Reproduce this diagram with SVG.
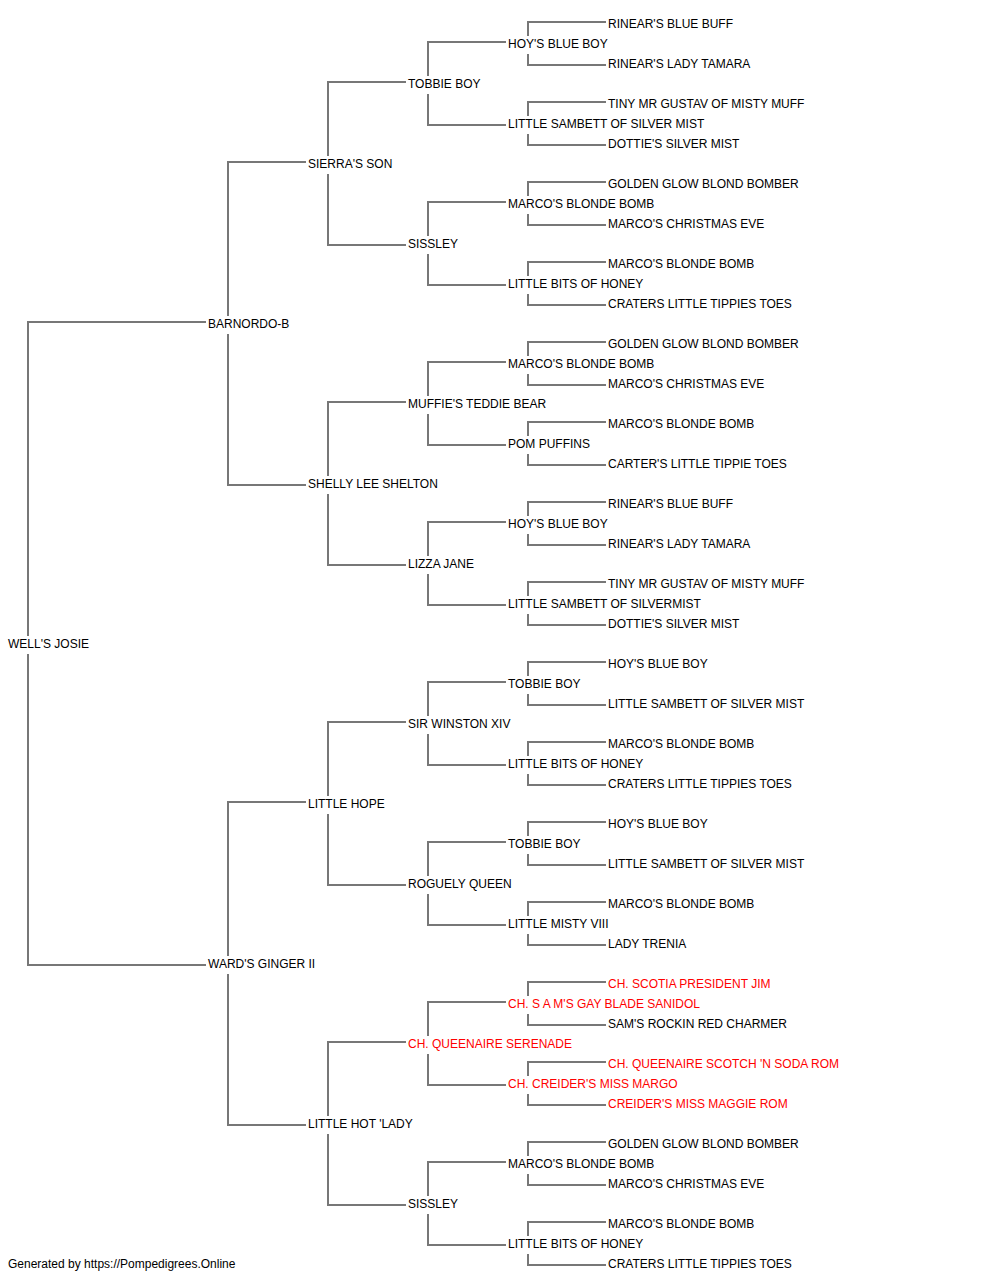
<svg xmlns="http://www.w3.org/2000/svg" width="1000" height="1280" viewBox="0 0 1000 1280">
<style>
text{font-family:"Liberation Sans",Arial,sans-serif;font-size:12px;fill:#000}
text.ch{fill:#ff0000}
.c path{fill:none;stroke:#777;stroke-width:2}
</style>
<rect width="1000" height="1280" fill="#fff"/>
<g class="c" id="connectors">
<path d="M206,322H28V636M28,654V965H206"/>
<path d="M306,162H228V316M228,334V485H306"/>
<path d="M306,802H228V956M228,974V1125H306"/>
<path d="M406,82H328V156M328,174V245H406"/>
<path d="M406,402H328V476M328,494V565H406"/>
<path d="M406,722H328V796M328,814V885H406"/>
<path d="M406,1042H328V1116M328,1134V1205H406"/>
<path d="M506,42H428V76M428,94V125H506"/>
<path d="M506,202H428V236M428,254V285H506"/>
<path d="M506,362H428V396M428,414V445H506"/>
<path d="M506,522H428V556M428,574V605H506"/>
<path d="M506,682H428V716M428,734V765H506"/>
<path d="M506,842H428V876M428,894V925H506"/>
<path d="M506,1002H428V1036M428,1054V1085H506"/>
<path d="M506,1162H428V1196M428,1214V1245H506"/>
<path d="M606,22H528V36M528,54V65H606"/>
<path d="M606,102H528V116M528,134V145H606"/>
<path d="M606,182H528V196M528,214V225H606"/>
<path d="M606,262H528V276M528,294V305H606"/>
<path d="M606,342H528V356M528,374V385H606"/>
<path d="M606,422H528V436M528,454V465H606"/>
<path d="M606,502H528V516M528,534V545H606"/>
<path d="M606,582H528V596M528,614V625H606"/>
<path d="M606,662H528V676M528,694V705H606"/>
<path d="M606,742H528V756M528,774V785H606"/>
<path d="M606,822H528V836M528,854V865H606"/>
<path d="M606,902H528V916M528,934V945H606"/>
<path d="M606,982H528V996M528,1014V1025H606"/>
<path d="M606,1062H528V1076M528,1094V1105H606"/>
<path d="M606,1142H528V1156M528,1174V1185H606"/>
<path d="M606,1222H528V1236M528,1254V1265H606"/>
</g>
<g id="g0"><text x="8" y="648">WELL'S JOSIE</text></g>
<g id="g1-0"><text x="208" y="328">BARNORDO-B</text></g>
<g id="g1-1"><text x="208" y="968">WARD'S GINGER II</text></g>
<g id="g2-0"><text x="308" y="168">SIERRA'S SON</text></g>
<g id="g2-1"><text x="308" y="488">SHELLY LEE SHELTON</text></g>
<g id="g2-2"><text x="308" y="808">LITTLE HOPE</text></g>
<g id="g2-3"><text x="308" y="1128">LITTLE HOT 'LADY</text></g>
<g id="g3-0"><text x="408" y="88">TOBBIE BOY</text></g>
<g id="g3-1"><text x="408" y="248">SISSLEY</text></g>
<g id="g3-2"><text x="408" y="408">MUFFIE'S TEDDIE BEAR</text></g>
<g id="g3-3"><text x="408" y="568">LIZZA JANE</text></g>
<g id="g3-4"><text x="408" y="728">SIR WINSTON XIV</text></g>
<g id="g3-5"><text x="408" y="888">ROGUELY QUEEN</text></g>
<g id="g3-6"><text class="ch" x="408" y="1048">CH. QUEENAIRE SERENADE</text></g>
<g id="g3-7"><text x="408" y="1208">SISSLEY</text></g>
<g id="g4-0"><text x="508" y="48">HOY'S BLUE BOY</text></g>
<g id="g4-1"><text x="508" y="128">LITTLE SAMBETT OF SILVER MIST</text></g>
<g id="g4-2"><text x="508" y="208">MARCO'S BLONDE BOMB</text></g>
<g id="g4-3"><text x="508" y="288">LITTLE BITS OF HONEY</text></g>
<g id="g4-4"><text x="508" y="368">MARCO'S BLONDE BOMB</text></g>
<g id="g4-5"><text x="508" y="448">POM PUFFINS</text></g>
<g id="g4-6"><text x="508" y="528">HOY'S BLUE BOY</text></g>
<g id="g4-7"><text x="508" y="608">LITTLE SAMBETT OF SILVERMIST</text></g>
<g id="g4-8"><text x="508" y="688">TOBBIE BOY</text></g>
<g id="g4-9"><text x="508" y="768">LITTLE BITS OF HONEY</text></g>
<g id="g4-10"><text x="508" y="848">TOBBIE BOY</text></g>
<g id="g4-11"><text x="508" y="928">LITTLE MISTY VIII</text></g>
<g id="g4-12"><text class="ch" x="508" y="1008">CH. S A M'S GAY BLADE SANIDOL</text></g>
<g id="g4-13"><text class="ch" x="508" y="1088">CH. CREIDER'S MISS MARGO</text></g>
<g id="g4-14"><text x="508" y="1168">MARCO'S BLONDE BOMB</text></g>
<g id="g4-15"><text x="508" y="1248">LITTLE BITS OF HONEY</text></g>
<g id="g5-0"><text x="608" y="28">RINEAR'S BLUE BUFF</text></g>
<g id="g5-1"><text x="608" y="68">RINEAR'S LADY TAMARA</text></g>
<g id="g5-2"><text x="608" y="108">TINY MR GUSTAV OF MISTY MUFF</text></g>
<g id="g5-3"><text x="608" y="148">DOTTIE'S SILVER MIST</text></g>
<g id="g5-4"><text x="608" y="188">GOLDEN GLOW BLOND BOMBER</text></g>
<g id="g5-5"><text x="608" y="228">MARCO'S CHRISTMAS EVE</text></g>
<g id="g5-6"><text x="608" y="268">MARCO'S BLONDE BOMB</text></g>
<g id="g5-7"><text x="608" y="308">CRATERS LITTLE TIPPIES TOES</text></g>
<g id="g5-8"><text x="608" y="348">GOLDEN GLOW BLOND BOMBER</text></g>
<g id="g5-9"><text x="608" y="388">MARCO'S CHRISTMAS EVE</text></g>
<g id="g5-10"><text x="608" y="428">MARCO'S BLONDE BOMB</text></g>
<g id="g5-11"><text x="608" y="468">CARTER'S LITTLE TIPPIE TOES</text></g>
<g id="g5-12"><text x="608" y="508">RINEAR'S BLUE BUFF</text></g>
<g id="g5-13"><text x="608" y="548">RINEAR'S LADY TAMARA</text></g>
<g id="g5-14"><text x="608" y="588">TINY MR GUSTAV OF MISTY MUFF</text></g>
<g id="g5-15"><text x="608" y="628">DOTTIE'S SILVER MIST</text></g>
<g id="g5-16"><text x="608" y="668">HOY'S BLUE BOY</text></g>
<g id="g5-17"><text x="608" y="708">LITTLE SAMBETT OF SILVER MIST</text></g>
<g id="g5-18"><text x="608" y="748">MARCO'S BLONDE BOMB</text></g>
<g id="g5-19"><text x="608" y="788">CRATERS LITTLE TIPPIES TOES</text></g>
<g id="g5-20"><text x="608" y="828">HOY'S BLUE BOY</text></g>
<g id="g5-21"><text x="608" y="868">LITTLE SAMBETT OF SILVER MIST</text></g>
<g id="g5-22"><text x="608" y="908">MARCO'S BLONDE BOMB</text></g>
<g id="g5-23"><text x="608" y="948">LADY TRENIA</text></g>
<g id="g5-24"><text class="ch" x="608" y="988">CH. SCOTIA PRESIDENT JIM</text></g>
<g id="g5-25"><text x="608" y="1028">SAM'S ROCKIN RED CHARMER</text></g>
<g id="g5-26"><text class="ch" x="608" y="1068">CH. QUEENAIRE SCOTCH 'N SODA ROM</text></g>
<g id="g5-27"><text class="ch" x="608" y="1108">CREIDER'S MISS MAGGIE ROM</text></g>
<g id="g5-28"><text x="608" y="1148">GOLDEN GLOW BLOND BOMBER</text></g>
<g id="g5-29"><text x="608" y="1188">MARCO'S CHRISTMAS EVE</text></g>
<g id="g5-30"><text x="608" y="1228">MARCO'S BLONDE BOMB</text></g>
<g id="g5-31"><text x="608" y="1268">CRATERS LITTLE TIPPIES TOES</text></g>
<g id="footer"><text x="8" y="1268">Generated by https://Pompedigrees.Online</text></g>
</svg>
